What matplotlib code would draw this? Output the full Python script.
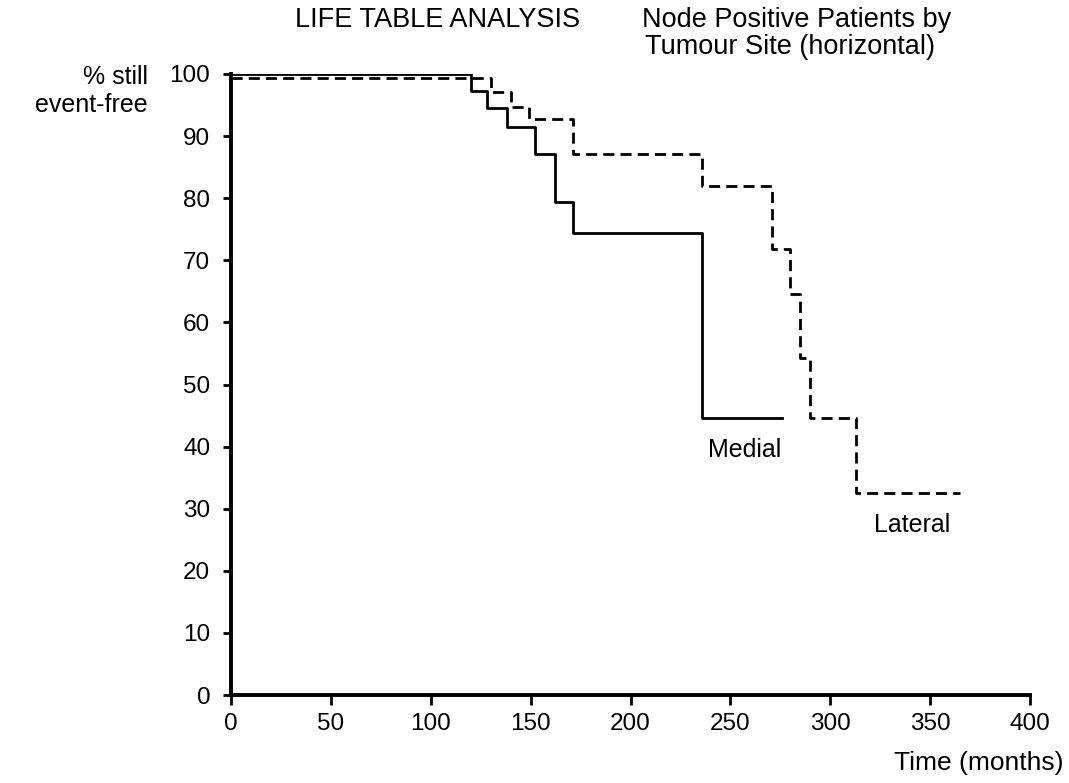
import matplotlib.pyplot as plt

plt.rcParams["font.family"] = ["Liberation Sans", "DejaVu Sans"]

W, H = 1069, 783

# step data
medial_months = [0, 120, 128, 138, 152, 162, 171, 236, 276]
medial_pct = [100, 97.3, 94.6, 91.5, 87.1, 79.4, 74.4, 44.6, 44.6]

lateral_months = [0, 130, 140, 149, 171, 236, 271, 280, 285, 290, 313, 365]
lateral_pct = [99.3, 97.1, 94.7, 92.7, 87.1, 82.0, 71.8, 64.6, 54.3, 44.6, 32.6, 32.6]

x_ticks = [0, 50, 100, 150, 200, 250, 300, 350, 400]
y_ticks = [0, 10, 20, 30, 40, 50, 60, 70, 80, 90, 100]


def px(x, y):
    # pixel position -> figure fraction
    return x / W, 1 - y / H


fig = plt.figure(figsize=(W / 100, H / 100), dpi=100)
ax = fig.add_axes([231 / W, 1 - 695 / H, (1030 - 231) / W, (695 - 74) / H])

ax.step(medial_months, medial_pct, where="post", color="black", linewidth=2.0)
ax.step(lateral_months, lateral_pct, where="post", color="black", linewidth=2.0,
        linestyle=(0, (4, 2.2)))

ax.text(*px(708, 450), "Medial", fontsize=18, va="center", ha="left",
        transform=fig.transFigure)
ax.text(*px(874, 525), "Lateral", fontsize=18, va="center", ha="left",
        transform=fig.transFigure)

ax.set_xlim(0, 400)
ax.set_ylim(0, 100)
ax.set_xticks(x_ticks)
ax.set_yticks(y_ticks)
ax.tick_params(axis="both", labelsize=17.5, width=2, direction="out")
ax.tick_params(axis="x", length=7, pad=6)
ax.tick_params(axis="y", length=6, pad=9)

for side in ["top", "right"]:
    ax.spines[side].set_visible(False)
for side in ["left", "bottom"]:
    ax.spines[side].set_linewidth(2.8)

fig.text(*px(295, 20), "LIFE TABLE ANALYSIS", fontsize=19.5, ha="left", va="center")
fig.text(*px(642, 20), "Node Positive Patients by", fontsize=19.5, ha="left", va="center")
fig.text(*px(645, 47), "Tumour Site (horizontal)", fontsize=19.5, ha="left", va="center")
fig.text(*px(148, 77), "% still", fontsize=18, ha="right", va="center")
fig.text(*px(148, 105), "event-free", fontsize=18, ha="right", va="center")
fig.text(*px(1063, 763), "Time (months)", fontsize=19, ha="right", va="center")

plt.savefig("out.png", dpi=100)
